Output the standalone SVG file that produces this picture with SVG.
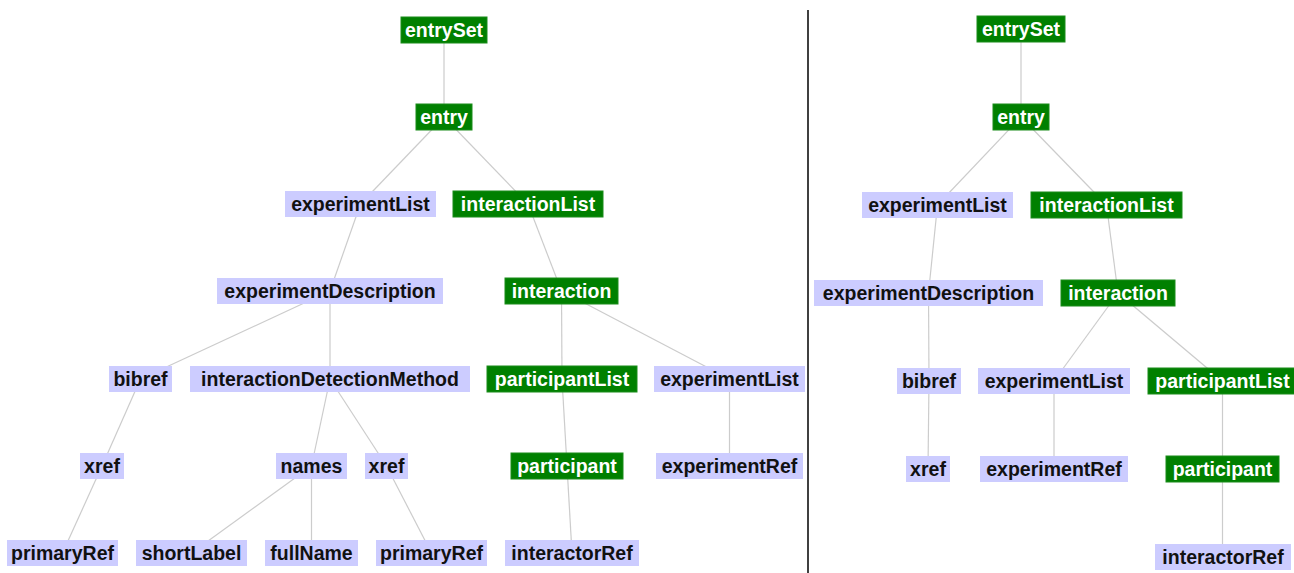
<svg xmlns="http://www.w3.org/2000/svg" width="1294" height="573" viewBox="0 0 1294 573">
<style>
.g rect{fill:#008000;stroke:#1a8c1a;stroke-width:1}
.g text{fill:#ffffff}
.l rect{fill:#ccccff}
.l text{fill:#111111}
text{font-family:"Liberation Sans",Arial,sans-serif;font-weight:bold;font-size:19.5px;text-anchor:middle}
#edges line{stroke:#cccccc;stroke-width:1.2}
</style>
<rect width="1294" height="573" fill="#ffffff"/>
<line id="divider" x1="808" y1="10" x2="808" y2="573" stroke="#000" stroke-width="1.5"/>
<g id="edges">
<!-- left tree -->
<line x1="444" y1="30" x2="444" y2="117"/>
<line x1="444" y1="117" x2="360.5" y2="204"/>
<line x1="444" y1="117" x2="528" y2="204"/>
<line x1="360.5" y1="204" x2="330" y2="291"/>
<line x1="528" y1="204" x2="561.5" y2="291"/>
<line x1="330" y1="291" x2="140.5" y2="379"/>
<line x1="330" y1="291" x2="330" y2="379"/>
<line x1="561.5" y1="291" x2="562" y2="379"/>
<line x1="561.5" y1="291" x2="729.5" y2="379"/>
<line x1="140.5" y1="379" x2="102" y2="466"/>
<line x1="330" y1="379" x2="311.5" y2="466"/>
<line x1="330" y1="379" x2="386.5" y2="466"/>
<line x1="562" y1="379" x2="567" y2="466"/>
<line x1="729.5" y1="379" x2="729.5" y2="466"/>
<line x1="102" y1="466" x2="62.5" y2="553"/>
<line x1="311.5" y1="466" x2="191.5" y2="553"/>
<line x1="311.5" y1="466" x2="311.5" y2="553"/>
<line x1="386.5" y1="466" x2="431.5" y2="553"/>
<line x1="567" y1="466" x2="572" y2="553"/>
<!-- right tree -->
<line x1="1021" y1="29" x2="1021" y2="117"/>
<line x1="1021" y1="117" x2="937.5" y2="205"/>
<line x1="1021" y1="117" x2="1106.5" y2="205"/>
<line x1="937.5" y1="205" x2="928.5" y2="293"/>
<line x1="1106.5" y1="205" x2="1118" y2="293"/>
<line x1="928.5" y1="293" x2="929" y2="381"/>
<line x1="1118" y1="293" x2="1054" y2="381"/>
<line x1="1118" y1="293" x2="1222.5" y2="381"/>
<line x1="929" y1="381" x2="928" y2="469"/>
<line x1="1054" y1="381" x2="1054" y2="469"/>
<line x1="1222.5" y1="381" x2="1222.5" y2="469"/>
<line x1="1222.5" y1="469" x2="1222.5" y2="557"/>
</g>
<!-- left tree nodes -->
<g id="L-entrySet" class="g"><rect x="401" y="17" width="86" height="26"/><text x="444" y="36.5">entrySet</text></g>
<g id="L-entry" class="g"><rect x="416" y="104" width="56" height="26"/><text x="444" y="123.5">entry</text></g>
<g id="L-experimentList" class="l"><rect x="285" y="191" width="151" height="26"/><text x="360.5" y="210.5">experimentList</text></g>
<g id="L-interactionList" class="g"><rect x="453" y="191" width="150" height="26"/><text x="528" y="210.5">interactionList</text></g>
<g id="L-experimentDescription" class="l"><rect x="217" y="278" width="226" height="26"/><text x="330" y="297.5">experimentDescription</text></g>
<g id="L-interaction" class="g"><rect x="505" y="278" width="113" height="26"/><text x="561.5" y="297.5">interaction</text></g>
<g id="L-bibref" class="l"><rect x="109" y="366" width="63" height="26"/><text x="140.5" y="385.5">bibref</text></g>
<g id="L-interactionDetectionMethod" class="l"><rect x="190" y="366" width="280" height="26"/><text x="330" y="385.5">interactionDetectionMethod</text></g>
<g id="L-participantList" class="g"><rect x="487" y="366" width="150" height="26"/><text x="562" y="385.5">participantList</text></g>
<g id="L-experimentList2" class="l"><rect x="654" y="366" width="151" height="26"/><text x="729.5" y="385.5">experimentList</text></g>
<g id="L-xref1" class="l"><rect x="80" y="453" width="44" height="26"/><text x="102" y="472.5">xref</text></g>
<g id="L-names" class="l"><rect x="276" y="453" width="71" height="26"/><text x="311.5" y="472.5">names</text></g>
<g id="L-xref2" class="l"><rect x="365" y="453" width="43" height="26"/><text x="386.5" y="472.5">xref</text></g>
<g id="L-participant" class="g"><rect x="511" y="453" width="112" height="26"/><text x="567" y="472.5">participant</text></g>
<g id="L-experimentRef" class="l"><rect x="656" y="453" width="147" height="26"/><text x="729.5" y="472.5">experimentRef</text></g>
<g id="L-primaryRef1" class="l"><rect x="7" y="540" width="111" height="26"/><text x="62.5" y="559.5">primaryRef</text></g>
<g id="L-shortLabel" class="l"><rect x="136" y="540" width="111" height="26"/><text x="191.5" y="559.5">shortLabel</text></g>
<g id="L-fullName" class="l"><rect x="265" y="540" width="93" height="26"/><text x="311.5" y="559.5">fullName</text></g>
<g id="L-primaryRef2" class="l"><rect x="376" y="540" width="111" height="26"/><text x="431.5" y="559.5">primaryRef</text></g>
<g id="L-interactorRef" class="l"><rect x="505" y="540" width="134" height="26"/><text x="572" y="559.5">interactorRef</text></g>
<!-- right tree nodes -->
<g id="R-entrySet" class="g"><rect x="977" y="16" width="88" height="26"/><text x="1021" y="35.5">entrySet</text></g>
<g id="R-entry" class="g"><rect x="993" y="104" width="56" height="26"/><text x="1021" y="123.5">entry</text></g>
<g id="R-experimentList" class="l"><rect x="862" y="192" width="151" height="26"/><text x="937.5" y="211.5">experimentList</text></g>
<g id="R-interactionList" class="g"><rect x="1031" y="192" width="151" height="26"/><text x="1106.5" y="211.5">interactionList</text></g>
<g id="R-experimentDescription" class="l"><rect x="814" y="280" width="229" height="26"/><text x="928.5" y="299.5">experimentDescription</text></g>
<g id="R-interaction" class="g"><rect x="1061" y="280" width="114" height="26"/><text x="1118" y="299.5">interaction</text></g>
<g id="R-bibref" class="l"><rect x="897" y="368" width="64" height="26"/><text x="929" y="387.5">bibref</text></g>
<g id="R-experimentList2" class="l"><rect x="978" y="368" width="152" height="26"/><text x="1054" y="387.5">experimentList</text></g>
<g id="R-participantList" class="g"><rect x="1148" y="368" width="149" height="26"/><text x="1222.5" y="387.5">participantList</text></g>
<g id="R-xref" class="l"><rect x="906" y="456" width="44" height="26"/><text x="928" y="475.5">xref</text></g>
<g id="R-experimentRef" class="l"><rect x="980" y="456" width="148" height="26"/><text x="1054" y="475.5">experimentRef</text></g>
<g id="R-participant" class="g"><rect x="1166" y="456" width="113" height="26"/><text x="1222.5" y="475.5">participant</text></g>
<g id="R-interactorRef" class="l"><rect x="1155" y="544" width="136" height="26"/><text x="1223" y="563.5">interactorRef</text></g>
</svg>
